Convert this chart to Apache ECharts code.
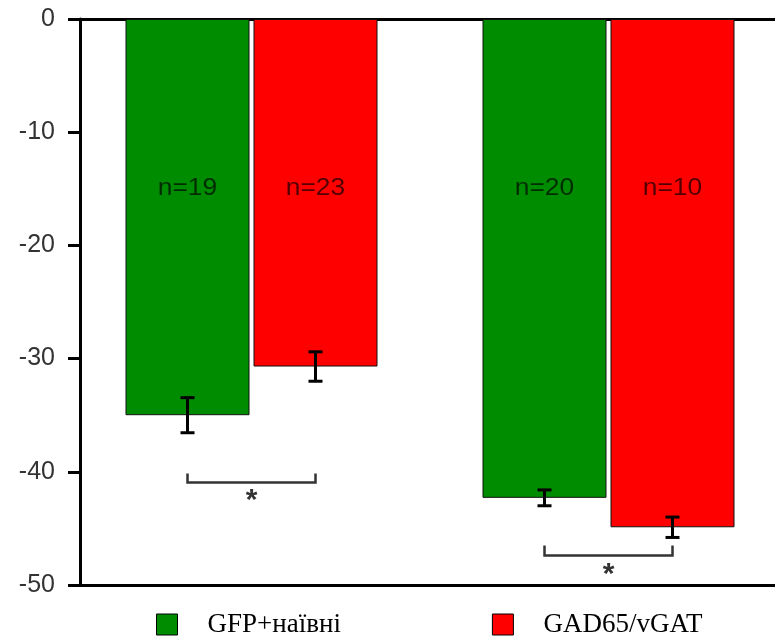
<!DOCTYPE html>
<html>
<head>
<meta charset="utf-8">
<script src="https://cdn.jsdelivr.net/npm/echarts@6/dist/echarts.min.js"></script>
<style>
  html, body { margin: 0; padding: 0; background: #fff; }
  #chart { width: 775px; height: 641px; }
</style>
</head>
<body>
<div id="chart"></div>
<script>
// Group positions (two experimental groups), values are mean ± error
const categories = ['1', '2'];
const seriesNames = ['GFP+наївні', 'GAD65/vGAT'];
const gfpMean = [-35.0, -42.3];
const gfpErr = [1.55, 0.7];
const gadMean = [-30.7, -44.9];
const gadErr = [1.3, 0.9];
const gfpN = ['n=19', 'n=20'];
const gadN = ['n=23', 'n=10'];
const nLabelLevel = -15;
// Significance brackets: [bar level, tip level, star level]
const bracketLevel = [-40.95, -47.4];
const bracketTip = [-40.15, -46.5];
const starLevel = [-42.6, -49.1];
const starText = ['*', '*'];
const yTicks = [0, -10, -20, -30, -40, -50];

const BAR_W = 124;
const BAR_GAP = 4;
const HALF = (BAR_W + BAR_GAP) / 2;

const chart = echarts.init(document.getElementById('chart'));

function errorBars(means, errs, side) {
  return {
    type: 'custom',
    xAxisIndex: 0,
    yAxisIndex: 0,
    z: 5,
    data: means.map((m, i) => [i, m, errs[i]]),
    renderItem: function (params, api) {
      const i = api.value(0);
      const hi = api.coord([i, api.value(1) + api.value(2)]);
      const lo = api.coord([i, api.value(1) - api.value(2)]);
      const x = hi[0] + side * HALF;
      const cap = 7;
      const st = { stroke: '#000', lineWidth: 3 };
      return {
        type: 'group',
        children: [
          { type: 'line', shape: { x1: x, y1: hi[1], x2: x, y2: lo[1] }, style: st },
          { type: 'line', shape: { x1: x - cap, y1: hi[1], x2: x + cap, y2: hi[1] }, style: st },
          { type: 'line', shape: { x1: x - cap, y1: lo[1], x2: x + cap, y2: lo[1] }, style: st }
        ]
      };
    }
  };
}

function nLabels(texts, side) {
  return {
    type: 'custom',
    z: 6,
    data: texts.map((t, i) => [i, nLabelLevel, t]),
    renderItem: function (params, api) {
      const p = api.coord([api.value(0), api.value(1)]);
      return {
        type: 'text',
        x: p[0] + side * HALF,
        y: p[1],
        scaleX: 1.1,
        style: {
          text: texts[params.dataIndex],
          fill: 'rgba(0,0,0,0.68)',
          font: '24px "Liberation Sans", Arial, sans-serif',
          align: 'center',
          verticalAlign: 'middle'
        }
      };
    }
  };
}

const brackets = {
  type: 'custom',
  z: 6,
  data: categories.map((c, i) => [i, bracketLevel[i], bracketTip[i], starLevel[i]]),
  renderItem: function (params, api) {
    const i = api.value(0);
    const base = api.coord([i, api.value(1)]);
    const tip = api.coord([i, api.value(2)]);
    const star = api.coord([i, api.value(3)]);
    const xl = base[0] - HALF, xr = base[0] + HALF;
    return {
      type: 'group',
      children: [
        {
          type: 'polyline',
          shape: { points: [[xl, tip[1]], [xl, base[1]], [xr, base[1]], [xr, tip[1]]] },
          style: { stroke: '#333', lineWidth: 2.5, fill: null }
        },
        {
          type: 'text',
          x: base[0],
          y: star[1],
          style: {
            text: starText[params.dataIndex],
            fill: '#333',
            font: 'bold 30px "Liberation Sans", Arial, sans-serif',
            align: 'center',
            verticalAlign: 'middle'
          }
        }
      ]
    };
  }
};

const option = {
  animation: false,
  backgroundColor: '#fff',
  grid: { left: 73, right: -12, top: 19, bottom: 56, outerBoundsMode: 'none' },
  legend: {
    data: seriesNames,
    left: 156,
    top: 611,
    padding: 0,
    icon: 'rect',
    itemWidth: 21,
    itemHeight: 21,
    itemGap: 151,
    itemStyle: { borderColor: '#000', borderWidth: 1 },
    textStyle: {
      fontFamily: '"Liberation Serif", "Times New Roman", serif',
      fontSize: 27,
      color: '#000',
      padding: [0, 0, 0, 25]
    }
  },
  xAxis: [
    {
      type: 'category',
      data: categories,
      axisLine: { show: true, onZero: true, lineStyle: { color: '#000', width: 3 } },
      axisTick: { show: false },
      axisLabel: { show: false },
      splitLine: { show: false }
    },
    {
      type: 'category',
      data: categories,
      position: 'bottom',
      axisLine: { show: true, onZero: false, lineStyle: { color: '#000', width: 3 } },
      axisTick: { show: false },
      axisLabel: { show: false },
      splitLine: { show: false }
    }
  ],
  yAxis: {
    type: 'value',
    min: -50,
    max: 0,
    interval: 10,
    offset: -7,
    axisLine: { show: true, lineStyle: { color: '#000', width: 3 } },
    axisTick: { show: true, length: 12, lineStyle: { color: '#000', width: 3 } },
    axisLabel: {
      margin: 25,
      fontSize: 25,
      color: '#333',
      fontFamily: '"Liberation Sans", Arial, sans-serif',
      formatter: function (v) { return yTicks.indexOf(v) >= 0 ? String(v) : ''; }
    },
    splitLine: { show: false }
  },
  series: [
    {
      name: seriesNames[0],
      type: 'bar',
      data: gfpMean,
      barWidth: BAR_W,
      barGap: (BAR_GAP / BAR_W * 100) + '%',
      itemStyle: { color: '#008c00', borderColor: '#111', borderWidth: 1 }
    },
    {
      name: seriesNames[1],
      type: 'bar',
      data: gadMean,
      barWidth: BAR_W,
      barGap: (BAR_GAP / BAR_W * 100) + '%',
      itemStyle: { color: '#ff0000', borderColor: '#111', borderWidth: 1 }
    },
    errorBars(gfpMean, gfpErr, -1),
    errorBars(gadMean, gadErr, 1),
    nLabels(gfpN, -1),
    nLabels(gadN, 1),
    brackets
  ]
};

chart.setOption(option);
</script>
</body>
</html>
